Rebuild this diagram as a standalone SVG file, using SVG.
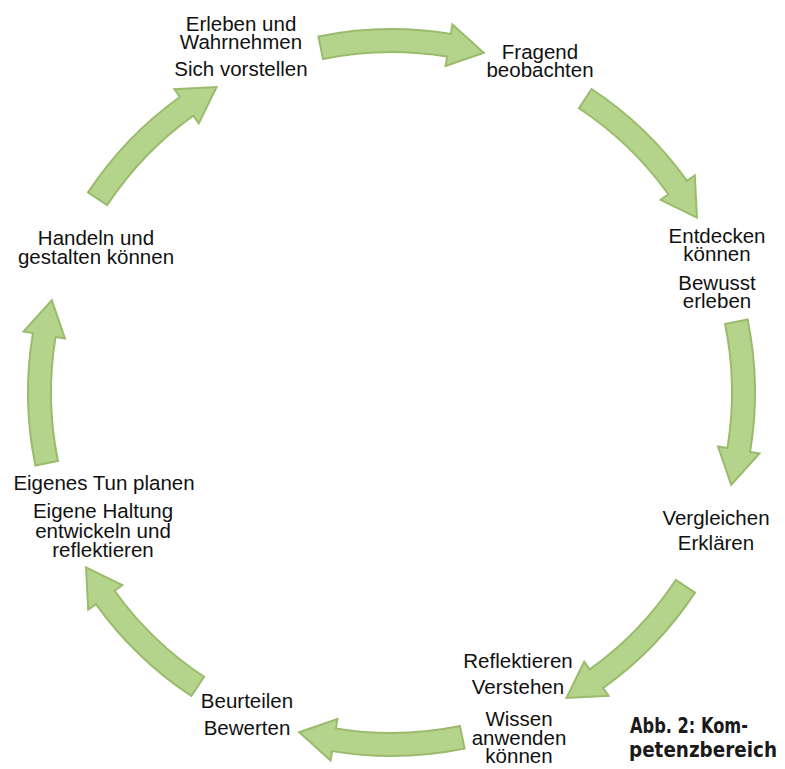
<svg xmlns="http://www.w3.org/2000/svg" width="785" height="769" viewBox="0 0 785 769">
<style>
.lbl{font-family:"Liberation Sans",Arial,sans-serif;font-size:20.5px;fill:#111;text-anchor:middle}
.arr{fill:#b5d48b;stroke:#9bbb6c;stroke-width:2;stroke-linejoin:miter}
.cap{font-family:"DejaVu Sans Condensed","Liberation Sans Narrow","Liberation Sans",sans-serif;font-weight:bold;font-size:21px;fill:#1a1a1a}
</style>
<rect width="785" height="769" fill="#ffffff"/>
<g id="connectors">
<path class="arr" d="M318.41,36.42 A363.5,363.5 0 0 1 450.87,33.88 L452.42,24.51 L483.79,52.81 L445.56,65.95 L447.11,56.57 A340.5,340.5 0 0 0 323.03,58.95 Z"/>
<path class="arr" d="M591.60,89.03 A363.5,363.5 0 0 1 687.06,180.90 L694.79,175.37 L696.96,217.56 L660.64,199.81 L668.36,194.28 A340.5,340.5 0 0 0 578.94,108.23 Z"/>
<path class="arr" d="M747.58,319.41 A363.5,363.5 0 0 1 750.12,451.87 L759.49,453.42 L731.19,484.79 L718.05,446.56 L727.43,448.11 A340.5,340.5 0 0 0 725.05,324.03 Z"/>
<path class="arr" d="M694.97,592.60 A363.5,363.5 0 0 1 603.10,688.06 L608.63,695.79 L566.44,697.96 L584.19,661.64 L589.72,669.36 A340.5,340.5 0 0 0 675.77,579.94 Z"/>
<path class="arr" d="M464.59,748.58 A363.5,363.5 0 0 1 332.13,751.12 L330.58,760.49 L299.21,732.19 L337.44,719.05 L335.89,728.43 A340.5,340.5 0 0 0 459.97,726.05 Z"/>
<path class="arr" d="M191.40,695.97 A363.5,363.5 0 0 1 95.94,604.10 L88.21,609.63 L86.04,567.44 L122.36,585.19 L114.64,590.72 A340.5,340.5 0 0 0 204.06,676.77 Z"/>
<path class="arr" d="M35.42,465.59 A363.5,363.5 0 0 1 32.88,333.13 L23.51,331.58 L51.81,300.21 L64.95,338.44 L55.57,336.89 A340.5,340.5 0 0 0 57.95,460.97 Z"/>
<path class="arr" d="M88.03,192.40 A363.5,363.5 0 0 1 179.90,96.94 L174.37,89.21 L216.56,87.04 L198.81,123.36 L193.28,115.64 A340.5,340.5 0 0 0 107.23,205.06 Z"/>
</g>
<g id="n1">
<text class="lbl" x="241" y="30.5">Erleben und</text>
<text class="lbl" x="241" y="49.3">Wahrnehmen</text>
<text class="lbl" x="241" y="75.5">Sich vorstellen</text>
</g>
<g id="n2">
<text class="lbl" x="540" y="58.5">Fragend</text>
<text class="lbl" x="540" y="77">beobachten</text>
</g>
<g id="n3">
<text class="lbl" x="717" y="243">Entdecken</text>
<text class="lbl" x="717" y="261">können</text>
<text class="lbl" x="717" y="290">Bewusst</text>
<text class="lbl" x="717" y="307.5">erleben</text>
</g>
<g id="n4">
<text class="lbl" x="716" y="525">Vergleichen</text>
<text class="lbl" x="716" y="550">Erklären</text>
</g>
<g id="n5">
<text class="lbl" x="518" y="668">Reflektieren</text>
<text class="lbl" x="518" y="694">Verstehen</text>
<text class="lbl" x="519" y="726">Wissen</text>
<text class="lbl" x="519" y="745">anwenden</text>
<text class="lbl" x="519" y="763">können</text>
</g>
<g id="n6">
<text class="lbl" x="247" y="708">Beurteilen</text>
<text class="lbl" x="247" y="735">Bewerten</text>
</g>
<g id="n7">
<text class="lbl" x="104" y="490">Eigenes Tun planen</text>
<text class="lbl" x="103" y="518">Eigene Haltung</text>
<text class="lbl" x="103" y="538">entwickeln und</text>
<text class="lbl" x="103" y="556.5">reflektieren</text>
</g>
<g id="n8">
<text class="lbl" x="96" y="245">Handeln und</text>
<text class="lbl" x="96" y="264">gestalten können</text>
</g>
<g id="caption">
<text class="cap" x="630" y="733" textLength="118" lengthAdjust="spacingAndGlyphs">Abb. 2: Kom-</text>
<text class="cap" x="629" y="757" textLength="148" lengthAdjust="spacingAndGlyphs">petenzbereich</text>
</g>
</svg>
